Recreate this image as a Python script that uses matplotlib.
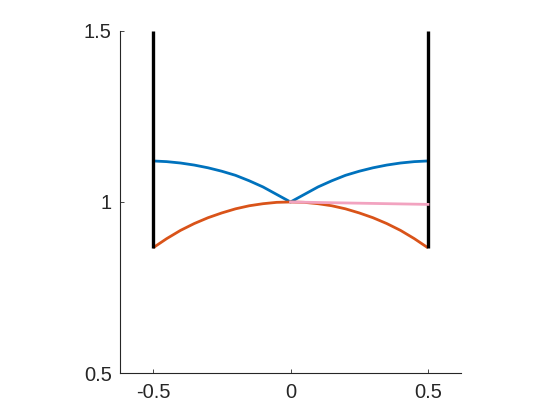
import matplotlib
matplotlib.use('Agg')
import matplotlib.pyplot as plt

plt.rcParams['font.family'] = ['Liberation Sans', 'DejaVu Sans']

# sample positions
xs = [-0.5, -0.45, -0.4, -0.35, -0.3, -0.25, -0.2, -0.15, -0.1, -0.05, 0.0,
      0.05, 0.1, 0.15, 0.2, 0.25, 0.3, 0.35, 0.4, 0.45, 0.5]

# upper (blue) curve, cusp at 0
blue_y = [1.120, 1.118, 1.114, 1.108, 1.100, 1.090, 1.078, 1.062, 1.044, 1.022, 1.000,
          1.022, 1.044, 1.062, 1.078, 1.090, 1.100, 1.108, 1.114, 1.118, 1.120]

# lower (orange) arc
orange_y = [0.866, 0.893, 0.917, 0.937, 0.954, 0.968, 0.980, 0.989, 0.995, 0.999, 1.000,
            0.999, 0.995, 0.989, 0.980, 0.968, 0.954, 0.937, 0.917, 0.893, 0.866]

# pink segment from the centre to the right wall
pink_x = [0.0, 0.5]
pink_y = [1.000, 0.993]

# vertical black walls
wall_x = [-0.5, 0.5]
wall_bottom = 0.866
wall_top = 1.5

fig = plt.figure(figsize=(5.6, 4.2), dpi=100)
ax = fig.add_axes([0.2143, 0.1119, 0.6089, 0.8143])

ax.plot(xs, blue_y, color='#0072BD', lw=2.0, solid_capstyle='butt')
ax.plot(xs, orange_y, color='#D95319', lw=2.0, solid_capstyle='butt')
for wx in wall_x:
    ax.plot([wx, wx], [wall_bottom, wall_top], color='black', lw=2.4,
            solid_capstyle='butt')
ax.plot(pink_x, pink_y, color='#F2A3C0', lw=2.0)

ax.set_xlim(-0.62, 0.62)
ax.set_ylim(0.5, 1.5)
ax.set_xticks([-0.5, 0, 0.5])
ax.set_xticklabels(['-0.5', '0', '0.5'])
ax.set_yticks([0.5, 1, 1.5])
ax.set_yticklabels(['0.5', '1', '1.5'])

ax.spines['top'].set_visible(False)
ax.spines['right'].set_visible(False)
for s in ['left', 'bottom']:
    ax.spines[s].set_linewidth(0.8)
    ax.spines[s].set_color('#262626')
ax.tick_params(direction='in', length=3, width=0.6, labelsize=14.5,
               colors='#262626')
ax.tick_params(axis='y', pad=6)
ax.tick_params(axis='x', pad=7)

plt.savefig('out.png')
